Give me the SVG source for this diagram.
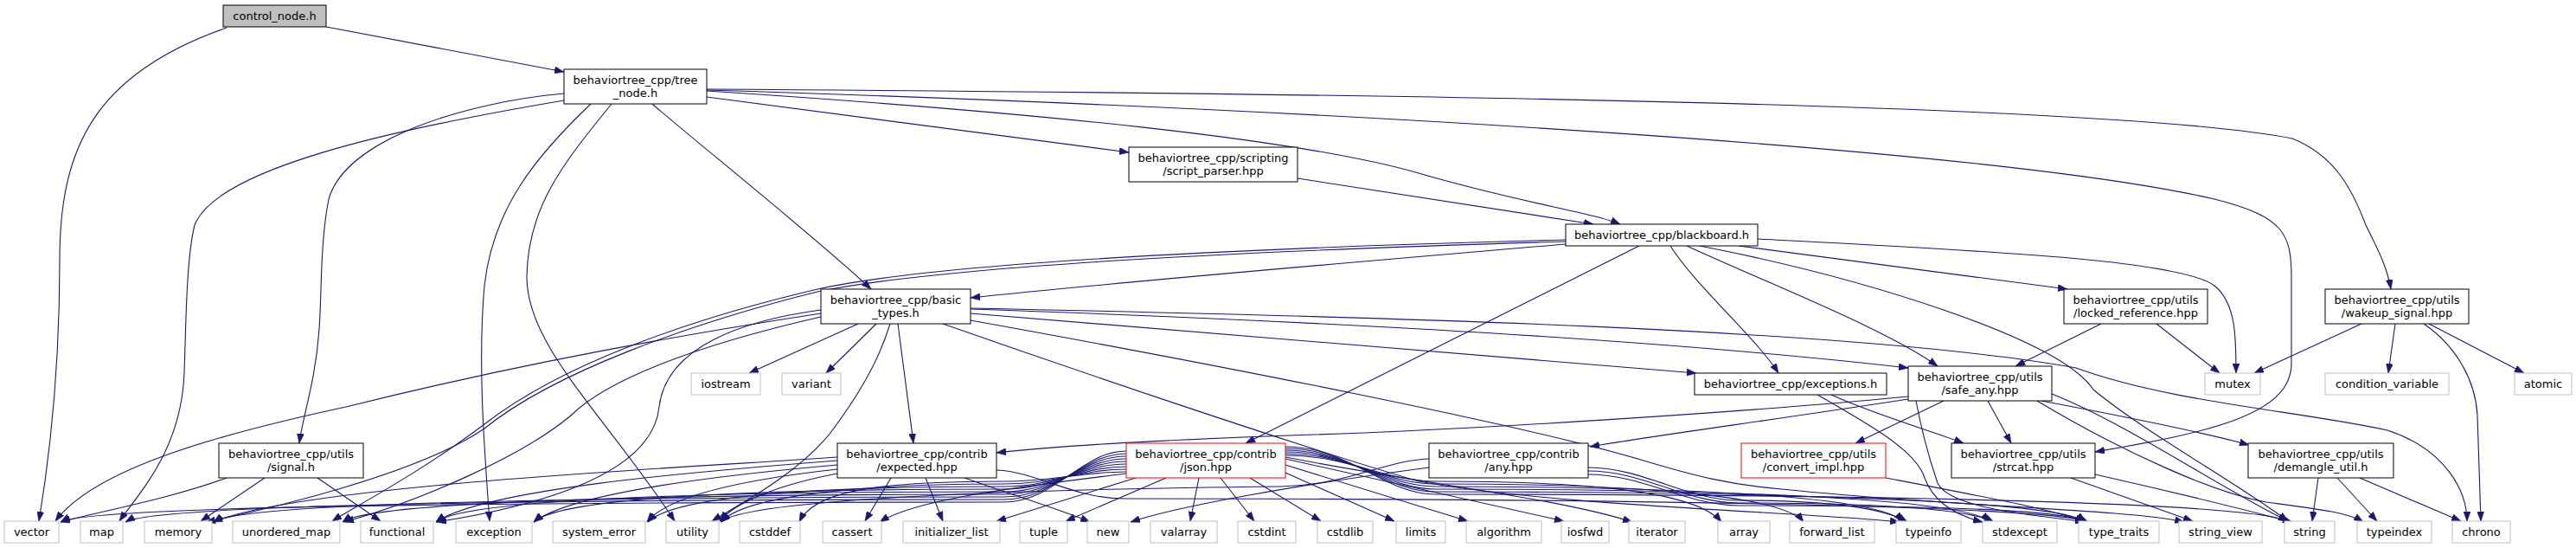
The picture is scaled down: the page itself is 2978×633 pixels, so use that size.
<svg xmlns="http://www.w3.org/2000/svg" width="2978" height="633" viewBox="0 0 2978 633">
<defs>
<marker id="a" viewBox="0 0 11 8" refX="11" refY="4" markerWidth="11" markerHeight="8" markerUnits="userSpaceOnUse" orient="auto"><path d="M0,0L11,4L0,8z" fill="#191970" stroke="#191970" stroke-width="0.6"/></marker>
</defs>
<style>
.e path{fill:none;stroke:#191970;stroke-width:1.1;marker-end:url(#a)}
rect{fill:#fff;stroke:#000;stroke-width:1}
.x rect{stroke:#bfbfbf}
.r rect{stroke:#ff0000}
.root rect{fill:#bfbfbf}
text{font-family:"DejaVu Sans","Liberation Sans",sans-serif;font-size:13px;text-anchor:middle;fill:#000}
</style>
<rect x="0" y="0" width="2978" height="633" style="fill:#fff;stroke:none"/>
<g id="edges" class="e">
<path d="M377,31 L652,83"/>
<path d="M262,32 C110,85 69,170 69,300 C69,450 52,560 45,602"/>
<path d="M652,108 C540,118 400,160 380,230 C370,280 372,340 369,380 C365,440 350,480 346,512"/>
<path d="M652,116 C450,150 250,195 225,260 C215,300 215,380 213,430 C210,520 160,570 138,602"/>
<path d="M683,120 C620,180 570,240 560,330 C552,420 560,520 566,602"/>
<path d="M707,120 C650,190 610,240 609,320 C609,400 700,480 780,602"/>
<path d="M754,120 C800,160 950,280 1007,334"/>
<path d="M817,112 L1305,176"/>
<path d="M817,105 C1200,130 1500,160 1640,200 C1760,235 1840,245 1873,259"/>
<path d="M817,104 C1500,125 2300,170 2560,230 C2640,250 2649,270 2649,320 L2649,420 C2649,480 2550,500 2422,522"/>
<path d="M817,103 C1600,108 2450,120 2650,160 C2700,180 2720,220 2735,260 C2750,290 2760,310 2764,334"/>
<path d="M1500,206 L1842,259"/>
<path d="M1810,282 C1600,300 1300,325 1122,344"/>
<path d="M1810,277 C1500,285 1100,300 945,334 C800,368 650,420 560,490 C480,550 410,585 384,602"/>
<path d="M1810,279 C1500,288 1100,305 945,337 C800,373 640,430 560,495 C480,550 300,590 238,603"/>
<path d="M1895,284 L1440,512"/>
<path d="M1931,284 C1960,330 2030,390 2056,431"/>
<path d="M1950,284 C2050,330 2180,380 2240,423"/>
<path d="M1965,284 C2150,320 2380,390 2420,450 C2480,500 2590,560 2645,602"/>
<path d="M2010,284 L2390,334"/>
<path d="M2032,276 C2300,290 2520,300 2560,330 C2585,350 2585,390 2585,431"/>
<path d="M2730,374 L2606,431"/>
<path d="M2769,374 L2761,431"/>
<path d="M2808,374 L2918,431"/>
<path d="M2802,374 C2840,400 2862,440 2864,480 L2868,602"/>
<path d="M2429,374 L2330,423"/>
<path d="M2493,374 L2566,431"/>
<path d="M992,374 L866,431"/>
<path d="M1013,374 L955,431"/>
<path d="M949,362 C700,400 520,440 400,470 C260,500 110,540 64,602"/>
<path d="M949,358 C860,370 770,400 762,470 C755,540 650,580 505,603"/>
<path d="M949,366 C800,400 700,440 660,480 C600,530 480,580 398,603"/>
<path d="M1029,374 C1015,420 990,460 960,500 C920,550 850,585 823,602"/>
<path d="M1038,374 L1056,512"/>
<path d="M1122,362 L1961,431"/>
<path d="M1122,357 C1500,370 1900,390 2206,425"/>
<path d="M1122,356 C1600,366 2150,380 2400,425 C2510,465 2660,475 2760,497 C2830,520 2852,570 2852,602"/>
<path d="M1090,374 C1250,430 1500,515 1640,556 C1800,585 2100,592 2196,603"/>
<path d="M1122,370 C1400,420 1760,490 1900,532 C1960,550 2000,560 2060,565 C2250,585 2460,588 2525,603"/>
<path d="M262,552 C200,575 120,590 70,603"/>
<path d="M306,552 L232,602"/>
<path d="M367,552 L440,602"/>
<path d="M2101,456 C2160,490 2215,520 2225,552 C2235,580 2260,595 2292,603"/>
<path d="M2117,456 C2170,480 2240,500 2270,512"/>
<path d="M2206,458 C2000,478 1700,495 1577,500 C1400,506 1250,512 1152,523"/>
<path d="M2206,461 C2050,485 1900,505 1838,516"/>
<path d="M2247,463 L2145,512"/>
<path d="M2298,463 L2325,512"/>
<path d="M2360,463 C2450,480 2550,500 2600,514"/>
<path d="M2372,455 C2460,490 2560,560 2645,602"/>
<path d="M2355,463 C2450,520 2560,570 2620,580 C2680,588 2715,592 2732,603"/>
<path d="M2215,463 C2222,500 2232,535 2240,558 C2255,590 2370,596 2410,603"/>
<path d="M2180,552 C2300,575 2380,590 2410,603"/>
<path d="M2394,552 L2535,602"/>
<path d="M2422,548 C2520,570 2600,590 2650,603"/>
<path d="M2680,552 L2673,602"/>
<path d="M2702,552 L2748,602"/>
<path d="M2728,552 L2845,602"/>
<path d="M1652,540 C1500,560 1360,585 1307,603"/>
<path d="M1652,530 C1600,532 1560,560 1480,562 C1100,566 860,580 833,603"/>
<path d="M1836,540 C1900,540 1950,578 2010,578 C2120,578 2180,588 2205,603"/>
<path d="M1836,544 C1900,544 1950,581 2010,581 C2200,581 2280,590 2305,603"/>
<path d="M1836,548 C1900,548 1950,584 2010,584 C2300,584 2390,592 2414,603"/>
<path d="M1030,552 L1000,602"/>
<path d="M1070,552 L1090,602"/>
<path d="M1115,552 C1180,575 1230,590 1260,603"/>
<path d="M1152,543 C1200,545 1240,576 1300,576 C1900,576 2380,585 2412,603"/>
<path d="M968,528 C800,540 350,560 246,603"/>
<path d="M968,532 C800,545 560,565 504,603"/>
<path d="M968,537 C820,550 660,570 617,603"/>
<path d="M968,542 C850,555 770,575 748,603"/>
<path d="M968,547 C900,560 850,580 832,602"/>
<path d="M1302,547 C1200,560 1060,575 1017,603"/>
<path d="M1302,545 C1250,545 1220,556 1160,556 C1000,556 940,570 924,603"/>
<path d="M1302,542 C1250,542 1220,559 1160,559 C1000,559 860,572 834,603"/>
<path d="M1302,539 C1250,539 1220,562 1160,562 C950,562 780,572 749,603"/>
<path d="M1302,536 C1250,536 1220,565 1160,565 C900,565 650,572 617,603"/>
<path d="M1302,533 C1250,533 1220,568 1160,568 C850,568 540,575 504,603"/>
<path d="M1302,530 C1250,530 1220,571 1160,571 C800,571 430,578 396,603"/>
<path d="M1302,527 C1250,527 1220,574 1160,574 C700,574 280,580 247,603"/>
<path d="M1302,524 C1250,524 1220,577 1160,577 C600,577 180,583 145,603"/>
<path d="M1302,521 C1250,521 1220,580 1160,580 C500,580 100,586 70,603"/>
<path d="M1313,552 L1152,602"/>
<path d="M1348,552 L1232,602"/>
<path d="M1386,552 L1376,602"/>
<path d="M1411,552 L1450,602"/>
<path d="M1445,552 L1527,602"/>
<path d="M1486,546 L1612,602"/>
<path d="M1486,537 L1697,602"/>
<path d="M1486,530 L1808,602"/>
<path d="M1486,528 C1650,560 1800,575 1887,603"/>
<path d="M1486,526 C1560,526 1600,556 1660,556 C1825,556 1960,566 1990,603"/>
<path d="M1486,524 C1560,524 1600,559 1660,559 C1870,559 2060,570 2085,603"/>
<path d="M1486,522 C1560,522 1600,562 1660,562 C1930,562 2175,572 2200,603"/>
<path d="M1486,520 C1560,520 1600,565 1660,565 C1980,565 2275,575 2300,603"/>
<path d="M1486,518 C1560,518 1600,568 1660,568 C2035,568 2385,578 2410,603"/>
<path d="M1486,516 C1560,516 1600,571 1660,571 C2150,571 2615,580 2645,603"/>
</g>
<g id="control_node_h" class="root"><rect x="258" y="6" width="119" height="25"/><text x="317.5" y="23">control_node.h</text></g>
<g id="tree_node_h"><rect x="652" y="80" width="165" height="40"/><text x="734.5" y="97">behaviortree_cpp/tree</text><text x="734.5" y="112">_node.h</text></g>
<g id="script_parser_hpp"><rect x="1305" y="170" width="195" height="40"/><text x="1402.5" y="187">behaviortree_cpp/scripting</text><text x="1402.5" y="202">/script_parser.hpp</text></g>
<g id="blackboard_h"><rect x="1810" y="259" width="222" height="25"/><text x="1921" y="276">behaviortree_cpp/blackboard.h</text></g>
<g id="basic_types_h"><rect x="949" y="334" width="173" height="40"/><text x="1035.5" y="351">behaviortree_cpp/basic</text><text x="1035.5" y="366">_types.h</text></g>
<g id="locked_reference_hpp"><rect x="2386" y="334" width="166" height="40"/><text x="2469" y="351">behaviortree_cpp/utils</text><text x="2469" y="366">/locked_reference.hpp</text></g>
<g id="wakeup_signal_hpp"><rect x="2688" y="334" width="166" height="40"/><text x="2771" y="351">behaviortree_cpp/utils</text><text x="2771" y="366">/wakeup_signal.hpp</text></g>
<g id="iostream" class="x"><rect x="799" y="431" width="80" height="25"/><text x="839" y="448">iostream</text></g>
<g id="variant" class="x"><rect x="904" y="431" width="68" height="25"/><text x="938" y="448">variant</text></g>
<g id="exceptions_h"><rect x="1959" y="431" width="222" height="25"/><text x="2070" y="448">behaviortree_cpp/exceptions.h</text></g>
<g id="safe_any_hpp"><rect x="2206" y="423" width="166" height="40"/><text x="2289" y="440">behaviortree_cpp/utils</text><text x="2289" y="455">/safe_any.hpp</text></g>
<g id="mutex" class="x"><rect x="2549" y="431" width="64" height="25"/><text x="2581" y="448">mutex</text></g>
<g id="condition_variable" class="x"><rect x="2688" y="431" width="143" height="25"/><text x="2759.5" y="448">condition_variable</text></g>
<g id="atomic" class="x"><rect x="2907" y="431" width="66" height="25"/><text x="2940" y="448">atomic</text></g>
<g id="signal_h"><rect x="253" y="512" width="167" height="40"/><text x="336.5" y="529">behaviortree_cpp/utils</text><text x="336.5" y="544">/signal.h</text></g>
<g id="expected_hpp"><rect x="968" y="512" width="184" height="40"/><text x="1060" y="529">behaviortree_cpp/contrib</text><text x="1060" y="544">/expected.hpp</text></g>
<g id="json_hpp" class="r"><rect x="1302" y="512" width="184" height="40"/><text x="1394" y="529">behaviortree_cpp/contrib</text><text x="1394" y="544">/json.hpp</text></g>
<g id="any_hpp"><rect x="1652" y="512" width="184" height="40"/><text x="1744" y="529">behaviortree_cpp/contrib</text><text x="1744" y="544">/any.hpp</text></g>
<g id="convert_impl_hpp" class="r"><rect x="2013" y="512" width="167" height="40"/><text x="2096.5" y="529">behaviortree_cpp/utils</text><text x="2096.5" y="544">/convert_impl.hpp</text></g>
<g id="strcat_hpp"><rect x="2256" y="512" width="166" height="40"/><text x="2339" y="529">behaviortree_cpp/utils</text><text x="2339" y="544">/strcat.hpp</text></g>
<g id="demangle_util_h"><rect x="2599" y="512" width="168" height="40"/><text x="2683" y="529">behaviortree_cpp/utils</text><text x="2683" y="544">/demangle_util.h</text></g>
<g id="vector" class="x"><rect x="5" y="602" width="63" height="25"/><text x="36.5" y="619">vector</text></g>
<g id="map" class="x"><rect x="93" y="602" width="49" height="25"/><text x="117.5" y="619">map</text></g>
<g id="memory" class="x"><rect x="167" y="602" width="78" height="25"/><text x="206" y="619">memory</text></g>
<g id="unordered_map" class="x"><rect x="269" y="602" width="124" height="25"/><text x="331" y="619">unordered_map</text></g>
<g id="functional" class="x"><rect x="417" y="602" width="84" height="25"/><text x="459" y="619">functional</text></g>
<g id="exception" class="x"><rect x="527" y="602" width="88" height="25"/><text x="571" y="619">exception</text></g>
<g id="system_error" class="x"><rect x="639" y="602" width="107" height="25"/><text x="692.5" y="619">system_error</text></g>
<g id="utility" class="x"><rect x="770" y="602" width="61" height="25"/><text x="800.5" y="619">utility</text></g>
<g id="cstddef" class="x"><rect x="855" y="602" width="70" height="25"/><text x="890" y="619">cstddef</text></g>
<g id="cassert" class="x"><rect x="951" y="602" width="68" height="25"/><text x="985" y="619">cassert</text></g>
<g id="initializer_list" class="x"><rect x="1044" y="602" width="112" height="25"/><text x="1100" y="619">initializer_list</text></g>
<g id="tuple" class="x"><rect x="1179" y="602" width="55" height="25"/><text x="1206.5" y="619">tuple</text></g>
<g id="new" class="x"><rect x="1257" y="602" width="48" height="25"/><text x="1281" y="619">new</text></g>
<g id="valarray" class="x"><rect x="1330" y="602" width="77" height="25"/><text x="1368.5" y="619">valarray</text></g>
<g id="cstdint" class="x"><rect x="1431" y="602" width="67" height="25"/><text x="1464.5" y="619">cstdint</text></g>
<g id="cstdlib" class="x"><rect x="1523" y="602" width="64" height="25"/><text x="1555" y="619">cstdlib</text></g>
<g id="limits" class="x"><rect x="1614" y="602" width="57" height="25"/><text x="1642.5" y="619">limits</text></g>
<g id="algorithm" class="x"><rect x="1695" y="602" width="87" height="25"/><text x="1738.5" y="619">algorithm</text></g>
<g id="iosfwd" class="x"><rect x="1805" y="602" width="55" height="25"/><text x="1832.5" y="619">iosfwd</text></g>
<g id="iterator" class="x"><rect x="1883" y="602" width="65" height="25"/><text x="1915.5" y="619">iterator</text></g>
<g id="array" class="x"><rect x="1986" y="602" width="60" height="25"/><text x="2016" y="619">array</text></g>
<g id="forward_list" class="x"><rect x="2069" y="602" width="98" height="25"/><text x="2118" y="619">forward_list</text></g>
<g id="typeinfo" class="x"><rect x="2192" y="602" width="75" height="25"/><text x="2229.5" y="619">typeinfo</text></g>
<g id="stdexcept" class="x"><rect x="2292" y="602" width="86" height="25"/><text x="2335" y="619">stdexcept</text></g>
<g id="type_traits" class="x"><rect x="2403" y="602" width="93" height="25"/><text x="2449.5" y="619">type_traits</text></g>
<g id="string_view" class="x"><rect x="2519" y="602" width="96" height="25"/><text x="2567" y="619">string_view</text></g>
<g id="string" class="x"><rect x="2641" y="602" width="58" height="25"/><text x="2670" y="619">string</text></g>
<g id="typeindex" class="x"><rect x="2725" y="602" width="86" height="25"/><text x="2768" y="619">typeindex</text></g>
<g id="chrono" class="x"><rect x="2835" y="602" width="67" height="25"/><text x="2868.5" y="619">chrono</text></g>
</svg>
